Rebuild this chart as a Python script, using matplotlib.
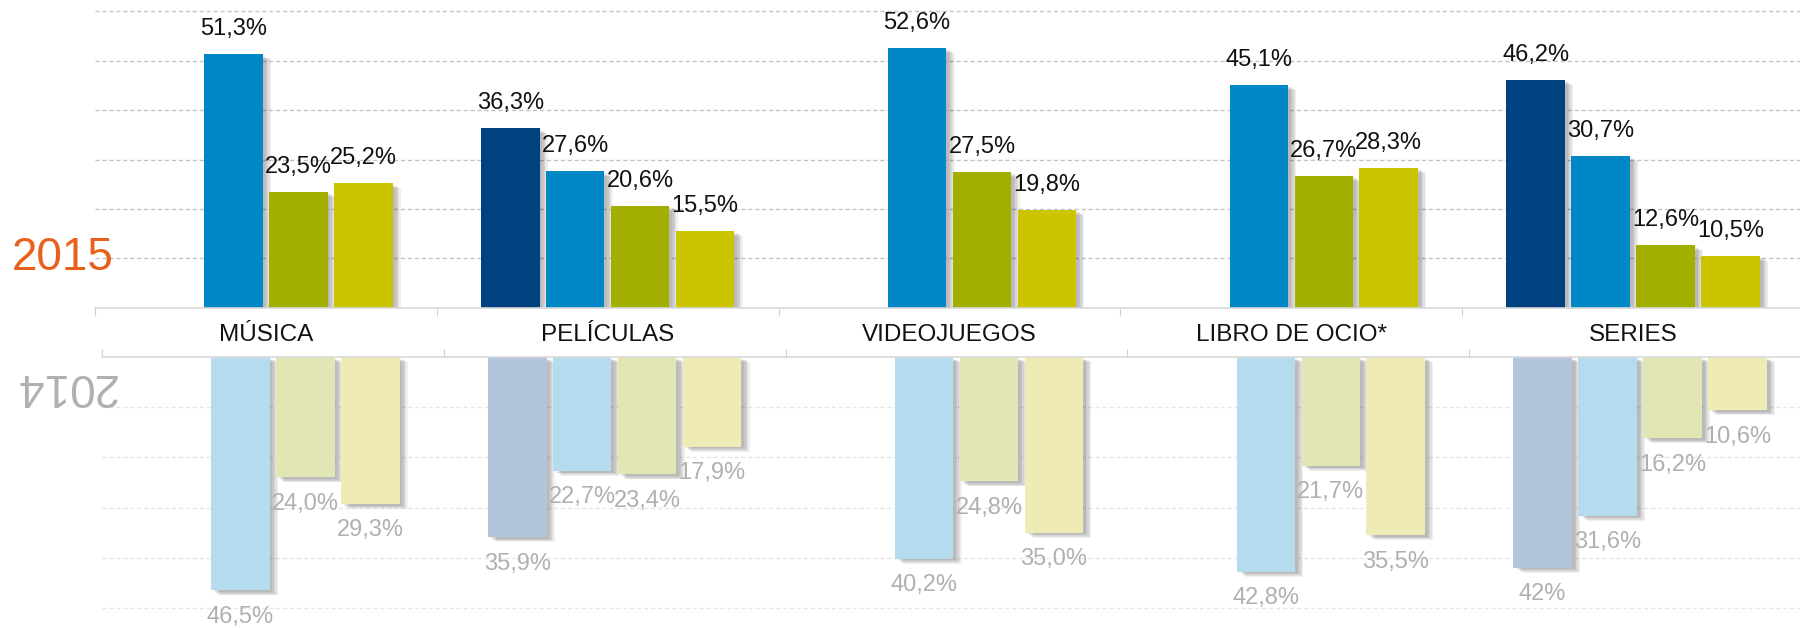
import matplotlib
matplotlib.use("Agg")
import matplotlib.pyplot as plt
import matplotlib.patheffects as pe
import numpy as np

plt.rcParams.update({
    "font.family": ["Liberation Sans", "DejaVu Sans"],
    "figure.facecolor": "white",
})

# ─── datos ────────────────────────────────────────────────
CATEGORIES = ["MÚSICA", "PELÍCULAS", "VIDEOJUEGOS", "LIBRO DE OCIO*", "SERIES"]

# 2015 (arriba), 4 series por categoría; None = sin barra
S1_2015 = [None, 36.3, None, None, 46.2]
S2_2015 = [51.3, 27.6, 52.6, 45.1, 30.7]
S3_2015 = [23.5, 20.6, 27.5, 26.7, 12.6]
S4_2015 = [25.2, 15.5, 19.8, 28.3, 10.5]

# 2014 (abajo, invertido)
S1_2014 = [None, 35.9, None, None, 42]
S2_2014 = [46.5, 22.7, 40.2, 42.8, 31.6]
S3_2014 = [24.0, 23.4, 24.8, 21.7, 16.2]
S4_2014 = [29.3, 17.9, 35.0, 35.5, 10.6]

COLORS_2015 = ["#00427F", "#0088C6", "#A3AF00", "#CCC400"]
COLORS_2014 = ["#B3C5DA", "#B4DBEE", "#E2E6B4", "#EEECB4"]

GRID_TICKS_TOP = [10, 20, 30, 40, 50, 60]
GRID_TICKS_BOT = [10, 20, 30, 40, 50]


def fmt(v):
    if isinstance(v, int):
        return f"{v}%"
    return f"{v:.1f}".replace(".", ",") + "%"


def style_axes(ax, grid_ticks, grid_color, top_side):
    ax.set_xlim(-0.5, 4.5)
    ax.set_yticks(grid_ticks)
    ax.yaxis.grid(True, linestyle=(0, (3, 2)), color=grid_color, linewidth=1)
    ax.set_axisbelow(True)
    ax.tick_params(axis="y", left=False, labelleft=False)
    for s in ax.spines.values():
        s.set_visible(False)
    edge = "top" if top_side else "bottom"
    ax.spines[edge].set_visible(True)
    ax.spines[edge].set_color("#D9D9D9")
    ax.spines[edge].set_linewidth(1.2)
    ax.set_xticks(np.arange(-0.5, 5, 1))
    if top_side:
        ax.xaxis.tick_top()
    ax.tick_params(axis="x", length=6, color="#D0D0D0", direction="out",
                   labelbottom=False, labeltop=False)


def draw_bars(ax, series, colors, label_color, offset_pt):
    x = np.arange(len(CATEGORIES))
    step = 0.19
    width = 0.171
    # sombra difusa: varias capas suaves
    shadow = [pe.SimplePatchShadow(offset=(k, -0.6 * k), shadow_rgbFace="#000000", alpha=0.06)
              for k in (6, 5, 4, 3, 2)] + [pe.Normal()]
    for j, (vals, col) in enumerate(zip(series, colors)):
        xo = x + (j - 1.5) * step
        for xi, v in zip(xo, vals):
            if v is None:
                continue
            ax.bar(xi, v, width, color=col, path_effects=shadow)
            ax.annotate(fmt(v), xy=(xi, v), xytext=(0, offset_pt),
                        textcoords="offset points", ha="center", va="center",
                        fontsize=17, color=label_color)


fig = plt.figure(figsize=(18, 6.28), dpi=100)

# ─── 2015 ─────────────────────────────────────────────────
ax_top = fig.add_axes([95 / 1800, 320.3 / 628, 1709 / 1800, 307.7 / 628])
ax_top.set_ylim(0, 62.3)
style_axes(ax_top, GRID_TICKS_TOP, "#C4C4C4", top_side=False)
draw_bars(ax_top, [S1_2015, S2_2015, S3_2015, S4_2015], COLORS_2015, "#111111", 18)

for i, cat in enumerate(CATEGORIES):
    ax_top.annotate(cat, xy=(i, 0), xycoords=ax_top.get_xaxis_transform(),
                    xytext=(0, -20), textcoords="offset points",
                    ha="center", va="center", fontsize=17.5, color="#111111")

# ─── 2014 ─────────────────────────────────────────────────
ax_bot = fig.add_axes([102 / 1800, 0, 1709 / 1800, 271 / 628])
ax_bot.set_ylim(54, 0)
style_axes(ax_bot, GRID_TICKS_BOT, "#E6E6E6", top_side=True)
draw_bars(ax_bot, [S1_2014, S2_2014, S3_2014, S4_2014], COLORS_2014, "#B0B0B0", -19)

fig.text(12 / 1800, 1 - 258 / 628, "2015", fontsize=33, color="#E8601C",
         ha="left", va="center")
fig.text(14 / 1800, 1 - 386 / 628, "2014", fontsize=33, color="#B0B0B0",
         ha="left", va="center", rotation=180)

fig.savefig("out.png", dpi=100)
